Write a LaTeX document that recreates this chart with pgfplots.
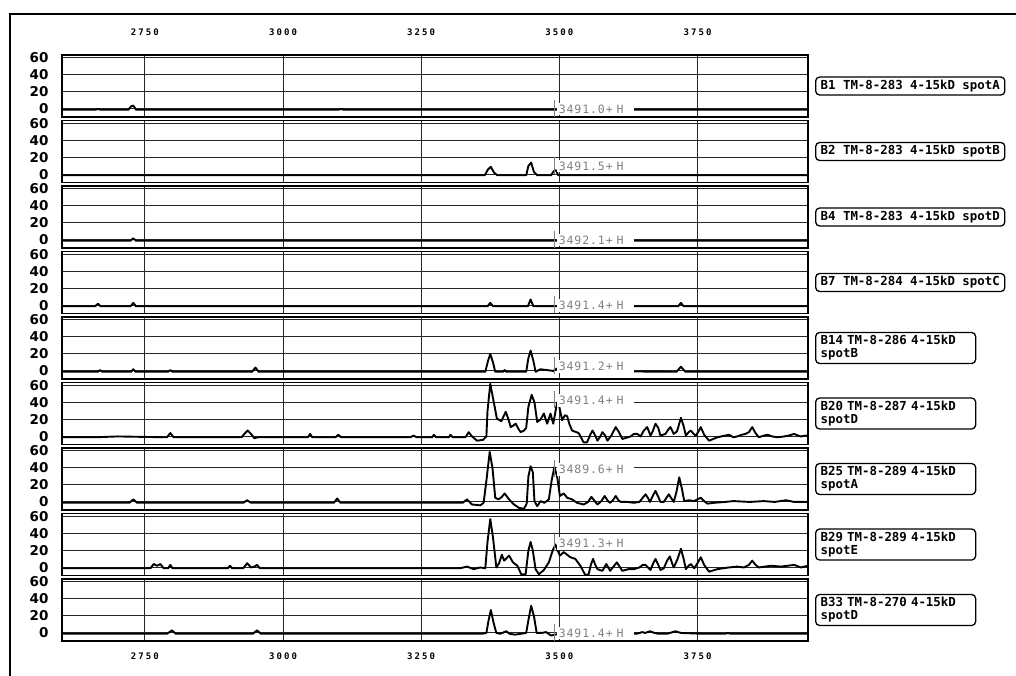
\documentclass[border=0pt]{standalone}
\usepackage{pgfplots}
\pgfplotsset{compat=1.18}
\usepackage{fontspec}
\setmainfont{DejaVu Sans}
\newfontfamily\boxfont{DejaVu Sans Mono}
\newfontfamily\xtfont[LetterSpace=23]{DejaVu Sans Mono}
\newfontfamily\annfont[LetterSpace=8]{DejaVu Sans Mono}

\pgfplotsset{
  panel/.style={
    scale only axis, width=746pt, height=62pt,
    xmin=2600, xmax=3950, ymin=-9.5, ymax=63.5,
    anchor=north west,
    xtick={2750,3000,3250,3500,3750},
    ytick={0,20,40,60},
    xticklabels={},
    grid=major,
    major grid style={line width=1pt, black!85},
    major tick length=0pt,
    axis line style={line width=1.6pt},
    /pgf/number format/assume math mode=true,
    yticklabel style={font=\fontsize{13.5}{13.5}\selectfont\bfseries, xshift=-10pt},
  },
  trace/.style={black, line width=1.9pt, line join=round},
}
\tikzset{
  ann/.style={anchor=west, fill=white, inner sep=2pt, text width=73pt, text=black!50,
    font=\annfont\fontsize{11.5}{11.5}\selectfont},
  lbl/.style={draw, rounded corners=4pt, line width=1.3pt, anchor=west,
    font=\boxfont\bfseries\fontsize{12.4}{13}\selectfont, inner xsep=5pt, inner ysep=3pt},
  lbltwo/.style={lbl, text width=150pt, align=left},
}
\newcommand{\marker}[2]{%
  \draw[black!50, line width=0.9pt] (axis cs:3491,#1-9) -- (axis cs:3491,#1+11);
  \node[ann] at (axis cs:3495,#1) {#2};}

\begin{document}
\begin{tikzpicture}
\path[use as bounding box, fill=white] (0pt,0pt) rectangle (1016pt,-675pt);
\draw[line width=2.5pt] (10pt,-676pt) -- (10pt,-14pt) -- (1017pt,-14pt);

% Panel 1
\begin{axis}[panel, at={(62pt,-55pt)},
  xticklabel pos=top, xticklabels={2750,3000,3250,3500,3750},
  xticklabel style={font=\xtfont\bfseries\fontsize{9}{9}\selectfont, yshift=16pt}]
\addplot[trace] coordinates {(2600,-1)(2660,-1)(2665,0)(2670,-1)(2720,-1)(2725,3)(2729,4)(2734,-1)(3100,-1)(3105,0)(3110,-1)(3950,-1)};
\marker{0}{3491.0+ H}
\end{axis}

% Panel 2
\begin{axis}[panel, at={(62pt,-120.5pt)}]
\addplot[trace] coordinates {(2600,-1)(3365,-1)(3371,6)(3376,9)(3382,2)(3388,-1)(3440,-1)(3444,10)(3449,14)(3454,3)(3460,-1)(3485,-1)(3490,4)(3494,5)(3498,-1)(3950,-1)};
\marker{10}{3491.5+ H}
\end{axis}

% Panel 3
\begin{axis}[panel, at={(62pt,-186pt)}]
\addplot[trace] coordinates {(2600,-1)(2724,-1)(2729,2)(2734,-1)(3950,-1)};
\marker{0}{3492.1+ H}
\end{axis}

% Panel 4
\begin{axis}[panel, at={(62pt,-251.5pt)}]
\addplot[trace] coordinates {(2600,-1)(2660,-1)(2665,2)(2670,-1)(2724,-1)(2729,3)(2734,-1)(3370,-1)(3375,3)(3380,-1)(3443,-1)(3448,7)(3453,-1)(3715,-1)(3720,3)(3725,-1)(3950,-1)};
\marker{0}{3491.4+ H}
\end{axis}

% Panel 5
\begin{axis}[panel, at={(62pt,-317pt)}]
\addplot[trace] coordinates {(2600,-1)(2665,-1)(2669,1)(2673,-1)(2725,-1)(2729,2)(2733,-1)(2792,-1)(2796,1)(2800,-1)(2944,-1)(2950,4)(2956,-1)(3366,-1)(3371,12)(3375,20)(3380,10)(3384,-1)(3398,-1)(3401,1)(3404,-1)(3440,-1)(3444,15)(3448,24)(3453,12)(3457,-1)(3466,2)(3478,1)(3489,0)(3496,3)(3500,0)(3712,-1)(3720,5)(3728,-1)(3950,-1)};
\marker{5}{3491.2+ H}
\end{axis}

% Panel 6
\begin{axis}[panel, at={(62pt,-382.5pt)}]
\addplot[trace] coordinates {(2600,-1)(2660,-1)(2700,0)(2790,-1)(2796,4)(2802,-1)(2925,-1)(2930,3)(2936,7)(2942,3)(2948,-2)(2955,-1)(3045,-1)(3049,3)(3053,-1)(3095,-1)(3100,2)(3105,-1)(3230,-1)(3236,1)(3242,-1)(3270,-1)(3273,2)(3277,-1)(3300,-1)(3303,2)(3307,-1)(3330,-1)(3336,5)(3342,0)(3351,-5)(3362,-4)(3368,0)(3370,30)(3375,62)(3380,45)(3387,21)(3395,18)(3403,29)(3408,20)(3412,11)(3417,13)(3421,15)(3426,9)(3430,5)(3436,7)(3440,10)(3444,35)(3450,49)(3455,40)(3460,17)(3466,20)(3472,27)(3478,15)(3484,27)(3489,15)(3496,40)(3500,35)(3505,19)(3510,25)(3514,24)(3518,15)(3523,7)(3535,4)(3544,-7)(3550,-7)(3556,2)(3560,7)(3565,1)(3569,-5)(3574,0)(3578,5)(3583,1)(3587,-5)(3594,1)(3602,11)(3608,5)(3614,-3)(3629,0)(3635,3)(3641,3)(3647,0)(3653,7)(3659,11)(3665,1)(3669,6)(3674,15)(3679,10)(3683,1)(3692,3)(3697,8)(3701,11)(3707,3)(3713,6)(3720,22)(3725,12)(3729,1)(3734,5)(3738,7)(3743,3)(3747,1)(3752,6)(3756,11)(3762,2)(3771,-5)(3786,-1)(3800,1)(3807,2)(3815,-1)(3822,0)(3830,2)(3837,3)(3843,5)(3849,11)(3855,4)(3861,-1)(3870,1)(3877,2)(3885,0)(3895,-1)(3907,0)(3915,1)(3925,3)(3932,1)(3937,0)(3945,1)(3950,1)};
\marker{42}{3491.4+ H}
\end{axis}

% Panel 7
\begin{axis}[panel, at={(62pt,-448pt)}]
\addplot[trace] coordinates {(2600,-1)(2722,-1)(2729,3)(2736,-1)(2928,-1)(2935,2)(2942,-1)(3092,-1)(3098,4)(3104,-1)(3325,-1)(3333,3)(3342,-3)(3357,-4)(3363,-1)(3368,25)(3374,59)(3379,40)(3384,5)(3390,3)(3396,6)(3401,10)(3409,3)(3418,-3)(3427,-7)(3436,-8)(3441,-2)(3444,30)(3448,42)(3452,35)(3455,1)(3460,-5)(3466,1)(3473,-1)(3481,3)(3486,25)(3491,41)(3496,30)(3501,7)(3508,10)(3514,5)(3523,3)(3532,-1)(3544,-3)(3552,0)(3558,6)(3564,1)(3569,-3)(3576,1)(3582,7)(3588,1)(3592,-1)(3597,2)(3602,7)(3607,2)(3611,0)(3623,0)(3635,-1)(3645,0)(3651,5)(3656,9)(3661,4)(3664,0)(3669,7)(3674,13)(3679,6)(3683,0)(3689,0)(3694,5)(3698,9)(3703,4)(3707,0)(3712,12)(3717,29)(3722,15)(3726,1)(3735,2)(3744,1)(3750,3)(3756,5)(3762,1)(3768,-2)(3780,-1)(3800,0)(3815,1)(3845,0)(3870,1)(3890,0)(3910,2)(3925,0)(3950,0)};
\marker{38}{3489.6+ H}
\end{axis}

% Panel 8
\begin{axis}[panel, at={(62pt,-513.5pt)}]
\addplot[trace] coordinates {(2600,-1)(2760,-1)(2766,4)(2772,2)(2778,4)(2784,-1)(2792,-1)(2796,3)(2800,-1)(2900,-1)(2904,2)(2908,-1)(2928,-1)(2935,5)(2942,0)(2948,1)(2953,3)(2958,-1)(3320,-1)(3333,1)(3345,-2)(3357,0)(3366,-1)(3370,30)(3375,57)(3380,35)(3386,0)(3391,5)(3396,15)(3400,8)(3403,10)(3409,14)(3416,6)(3424,2)(3431,-8)(3439,-8)(3444,20)(3448,30)(3452,20)(3457,-2)(3463,-8)(3472,-3)(3481,6)(3488,20)(3493,27)(3497,20)(3501,14)(3508,18)(3514,15)(3520,12)(3529,10)(3538,2)(3547,-9)(3553,-8)(3557,3)(3561,10)(3565,3)(3569,-2)(3578,-4)(3585,4)(3592,-4)(3598,1)(3604,6)(3609,1)(3614,-4)(3625,-2)(3635,-2)(3645,0)(3651,3)(3656,3)(3665,-3)(3670,5)(3674,10)(3679,3)(3683,-3)(3689,-1)(3695,8)(3700,13)(3704,5)(3707,0)(3714,10)(3720,22)(3725,10)(3729,-2)(3734,2)(3738,4)(3744,-1)(3750,5)(3756,12)(3762,3)(3771,-5)(3786,-2)(3807,0)(3822,1)(3834,0)(3843,3)(3849,8)(3855,3)(3861,0)(3883,2)(3901,1)(3925,3)(3937,0)(3950,2)};
\marker{28}{3491.3+ H}
\end{axis}

% Panel 9
\begin{axis}[panel, at={(62pt,-579pt)},
  xticklabel pos=bottom, xticklabels={2750,3000,3250,3500,3750},
  xticklabel style={font=\xtfont\bfseries\fontsize{9}{9}\selectfont, yshift=-8pt}]
\addplot[trace] coordinates {(2600,-1)(2790,-1)(2799,3)(2806,-1)(2945,-1)(2953,3)(2960,-1)(3360,-1)(3368,0)(3372,15)(3376,27)(3381,12)(3386,0)(3393,-1)(3404,2)(3410,-1)(3420,-2)(3440,0)(3444,15)(3449,32)(3454,20)(3459,0)(3468,0)(3476,1)(3485,-3)(3492,-2)(3500,-1)(3640,-1)(3650,1)(3655,0)(3664,2)(3672,0)(3680,-1)(3695,-1)(3710,2)(3720,0)(3760,-1)(3800,-1)(3805,0)(3810,-1)(3950,-1)};
\marker{0}{3491.4+ H}
\end{axis}

% Right-hand labels
\node[lbl] at (815pt,-86pt) {B1 TM-8-283 4-15kD spotA};
\node[lbl] at (815pt,-151.5pt) {B2 TM-8-283 4-15kD spotB};
\node[lbl] at (815pt,-217pt) {B4 TM-8-283 4-15kD spotD};
\node[lbl] at (815pt,-282.5pt) {B7 TM-8-284 4-15kD spotC};
\node[lbltwo] at (815pt,-348pt) {B14 TM-8-286 4-15kD\\spotB};
\node[lbltwo] at (815pt,-413.5pt) {B20 TM-8-287 4-15kD\\spotD};
\node[lbltwo] at (815pt,-479pt) {B25 TM-8-289 4-15kD\\spotA};
\node[lbltwo] at (815pt,-544.5pt) {B29 TM-8-289 4-15kD\\spotE};
\node[lbltwo] at (815pt,-610pt) {B33 TM-8-270 4-15kD\\spotD};
\end{tikzpicture}
\end{document}
